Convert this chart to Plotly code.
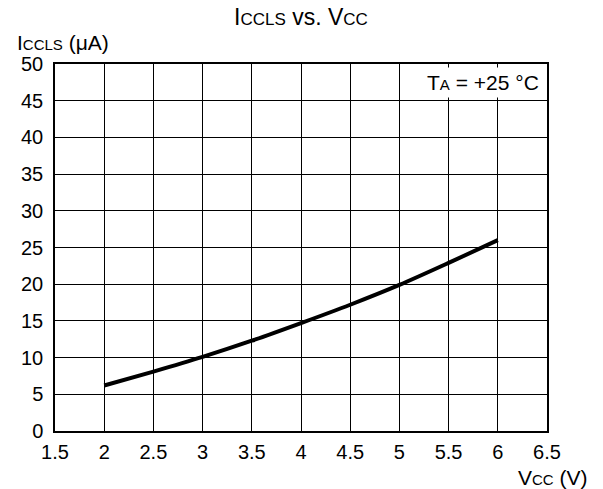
import plotly.graph_objects as go

# Data
vcc = [2.0, 2.5, 3.0, 3.5, 4.0, 4.5, 5.0, 5.5, 6.0]
iccls = [6.2, 8.1, 10.1, 12.3, 14.7, 17.2, 19.9, 22.9, 26.0]

x_ticks = [1.5, 2, 2.5, 3, 3.5, 4, 4.5, 5, 5.5, 6, 6.5]
x_ticklabels = ["1.5", "2", "2.5", "3", "3.5", "4", "4.5", "5", "5.5", "6", "6.5"]
y_ticks = [0, 5, 10, 15, 20, 25, 30, 35, 40, 45, 50]
y_ticklabels = [str(v) for v in y_ticks]

FONT = "Liberation Sans, Arial, Helvetica, sans-serif"


def sc(s, size=15):
    return "<span style='font-size:%dpx'>%s</span>" % (size, s)


fig = go.Figure()
fig.add_trace(go.Scatter(
    x=vcc, y=iccls, mode="lines",
    line=dict(color="black", width=4, shape="spline", smoothing=0.8),
    showlegend=False, hoverinfo="skip",
))

axis_common = dict(
    showgrid=True, gridcolor="black", gridwidth=1,
    showline=True, linecolor="black", linewidth=1.5, mirror=True,
    zeroline=False, ticks="", tickfont=dict(family=FONT, size=20, color="black"),
)

fig.update_xaxes(range=[1.5, 6.5], tickvals=x_ticks, ticktext=x_ticklabels,
                 ticklabelstandoff=2, **axis_common)
fig.update_yaxes(range=[0, 50], tickvals=y_ticks, ticktext=y_ticklabels,
                 ticklabelstandoff=6, **axis_common)

fig.update_layout(
    width=603, height=489,
    margin=dict(l=55, r=56, t=64, b=58),
    paper_bgcolor="white", plot_bgcolor="white",
    font=dict(family=FONT, size=21, color="black"),
    annotations=[
        dict(text="I" + sc("CCLS", 17) + " vs. V" + sc("CC", 17),
             xref="paper", yref="paper", x=0.5, y=1.127,
             xanchor="center", yanchor="middle", showarrow=False,
             font=dict(size=23)),
        dict(text="I" + sc("CCLS") + " (μA)",
             xref="paper", yref="paper", x=-0.0813, y=1.0595,
             xanchor="left", yanchor="middle", showarrow=False,
             font=dict(size=21)),
        dict(text="V" + sc("CC") + " (V)",
             xref="paper", yref="paper", x=1.0874, y=-0.1256,
             xanchor="right", yanchor="middle", showarrow=False,
             font=dict(size=21)),
        dict(text="T" + sc("A") + " = +25 °C",
             xref="x", yref="y", x=6.5, y=47.5,
             xanchor="right", yanchor="middle", showarrow=False,
             xshift=-4, bgcolor="white", bordercolor="rgba(0,0,0,0)",
             borderwidth=1, borderpad=3,
             font=dict(size=21)),
    ],
)

fig.write_html("out.html", config={"displayModeBar": False},
               post_script="document.body.style.margin='0px';")
